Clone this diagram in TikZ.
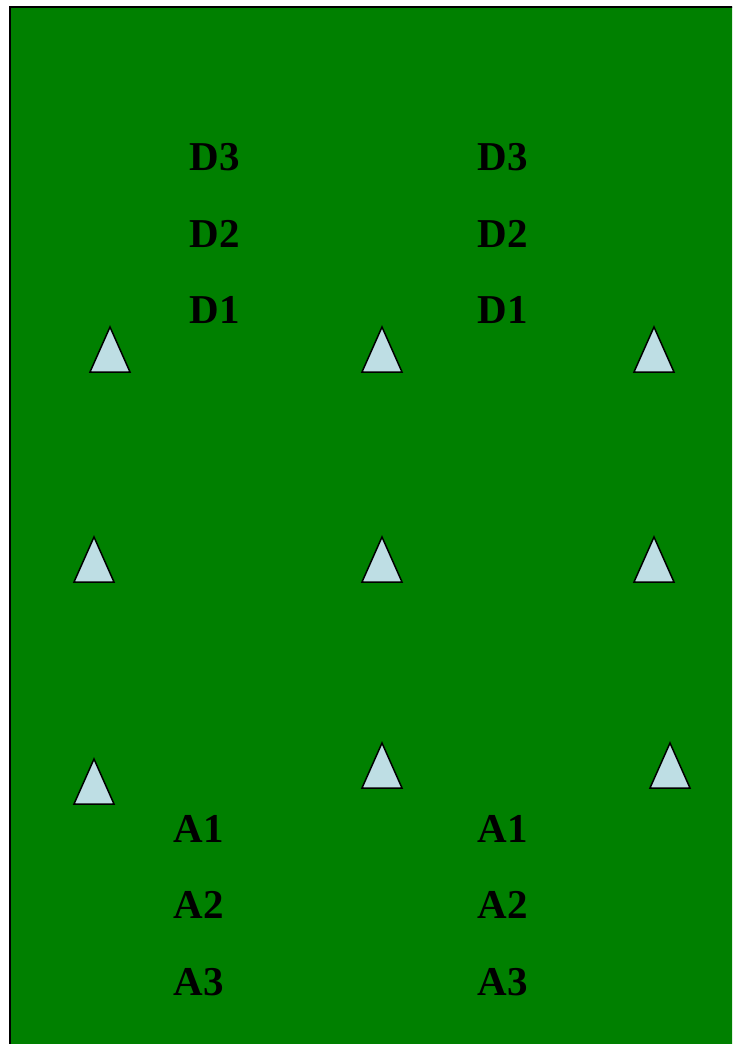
\documentclass[tikz,border=0pt]{standalone}
\usepackage{fontspec}
\setmainfont{Liberation Serif}
\usepackage{tikz}
\usetikzlibrary{positioning}
\definecolor{pitch}{RGB}{0,128,0}
\definecolor{conefill}{RGB}{190,222,228}
\tikzset{
  lbl/.style={font=\fontsize{41}{41}\selectfont\bfseries, inner sep=0pt, anchor=base, text=black},
  cone/.pic={\draw[fill=conefill, line width=1.5pt, line join=miter] (-20,0) -- (0,-45) -- (20,0) -- cycle;}
}

\begin{document}
\begin{tikzpicture}[x=1pt, y=-1pt]
\useasboundingbox (0,0) rectangle (732,1044);
\clip (0,0) rectangle (732,1044);
\draw[fill=pitch, line width=2pt] (10,7) rectangle (760,1070);
% cones
\foreach \cx/\cy [count=\i] in {110/372, 382/372, 654/372, 94/582, 382/582, 654/582, 94/804, 382/788, 670/788}
  \pic (cone\i) at (\cx,\cy) {cone};
% labels
\foreach \n/\by in {3/170, 2/247, 1/323} {
  \node[lbl] (dl\n) at (215,\by) {D\n};
  \node[lbl] (dr\n) at (503,\by) {D\n};
}
\foreach \n/\by in {1/842, 2/918, 3/995} {
  \node[lbl] (al\n) at (199,\by) {A\n};
  \node[lbl] (ar\n) at (503,\by) {A\n};
}
\end{tikzpicture}
\end{document}
